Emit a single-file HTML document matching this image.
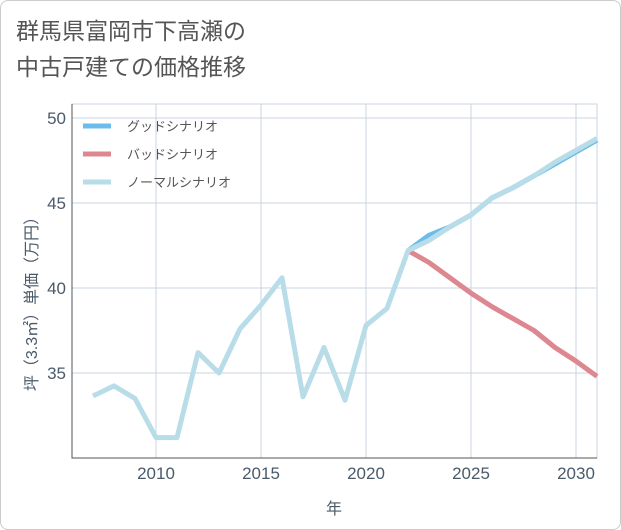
<!DOCTYPE html>
<html><head><meta charset="utf-8"><style>
body{margin:0;background:#fff;}
.wrap{width:619px;height:528px;border:1px solid #ccc;border-radius:8px;position:relative;overflow:hidden;background:#fff;font-family:"Liberation Sans","Noto Sans CJK JP",sans-serif;}
.title{position:absolute;left:15px;top:12px;font-size:23px;line-height:36px;color:#555;}
</style></head><body>
<div class="wrap">
<div class="title">群馬県富岡市下高瀬の<br>中古戸建ての価格推移</div>
<svg id="chart" width="621" height="530" style="position:absolute;left:-1px;top:-1px"></svg>
</div>
<script>
const years=[2007,2008,2009,2010,2011,2012,2013,2014,2015,2016,2017,2018,2019,2020,2021,2022,2023,2024,2025,2026,2027,2028,2029,2030,2031];
const normal=[33.65,34.24,33.5,31.2,31.2,36.2,35.0,37.6,39.0,40.6,33.6,36.5,33.4,37.8,38.8,42.2,42.8,43.6,44.3,45.3,45.9,46.6,47.4,48.1,48.8];
const goodYears=[2022,2023,2024,2025,2026,2027,2028,2029,2030,2031];
const good=[42.2,43.1,43.6,44.3,45.3,45.9,46.6,47.3,48.0,48.7];
const bad=[42.2,41.5,40.6,39.7,38.9,38.2,37.5,36.5,35.7,34.8];
const xTicks=[2010,2015,2020,2025,2030];
const yTicks=[35,40,45,50];
const NS="http://www.w3.org/2000/svg";
const svg=document.getElementById('chart');
const L=72,R=597,T=104,B=458;
const x=v=>156+(v-2010)*21;
const y=v=>373-(v-35)*17;
function mk(t,a){const e=document.createElementNS(NS,t);for(const k in a)e.setAttribute(k,a[k]);svg.appendChild(e);return e;}
let e;
e=mk('rect',{x:L,y:T,width:R-L,height:B-T,fill:'#fff',stroke:'#c8d4e0','stroke-width':1});


xTicks.forEach(t=>{
 e=mk('line',{x1:x(t),x2:x(t),y1:T,y2:B,stroke:'#c8d4e0'});
 
 
 e=mk('text',{x:x(t),y:B+21,'text-anchor':'middle','font-size':17,fill:'#4a5a6a'});e.textContent=t;
 
 
});
yTicks.forEach(t=>{
 e=mk('line',{x1:L,x2:R,y1:y(t),y2:y(t),stroke:'#c8d4e0'});
 
 
 e=mk('text',{x:L-6,y:y(t)+6,'text-anchor':'end','font-size':17,fill:'#4a5a6a'});e.textContent=t;
 
 
});
e=mk('path',{d:`M${L},${T} V${B} H${R}`,fill:'none',stroke:'#555','stroke-width':1});


e=mk('text',{x:334,y:514,'text-anchor':'middle','font-size':16,fill:'#4a5a6a'});e.textContent='年';


e=mk('text',{x:0,y:0,'text-anchor':'middle','font-size':16,fill:'#4a5a6a',transform:'translate(37,300) rotate(-90)'});e.textContent='坪（3.3㎡）単価（万円）';


function line(xs,ys,c,name){const p=xs.map((v,i)=>x(v)+','+y(ys[i])).join(' ');const l=mk('polyline',{points:p,fill:'none',stroke:c,'stroke-width':5,'stroke-linejoin':'round'});
 
 }
line(goodYears,bad,'#dd8890','bad-scenario-line');
line(goodYears,good,'#6bbcec','good-scenario-line');
line(years,normal,'#b8dde9','normal-scenario-line');
const leg=[['グッドシナリオ','#6bbcec'],['バッドシナリオ','#dd8890'],['ノーマルシナリオ','#b8dde9']];
leg.forEach((d,i)=>{const yy=126+i*28;
 e=mk('line',{x1:83,x2:111,y1:yy,y2:yy,stroke:d[1],'stroke-width':5});
 
 
 e=mk('text',{x:127,y:yy+5,'font-size':13,fill:'#555'});e.textContent=d[0];
 
 
});
</script>
</body></html>
